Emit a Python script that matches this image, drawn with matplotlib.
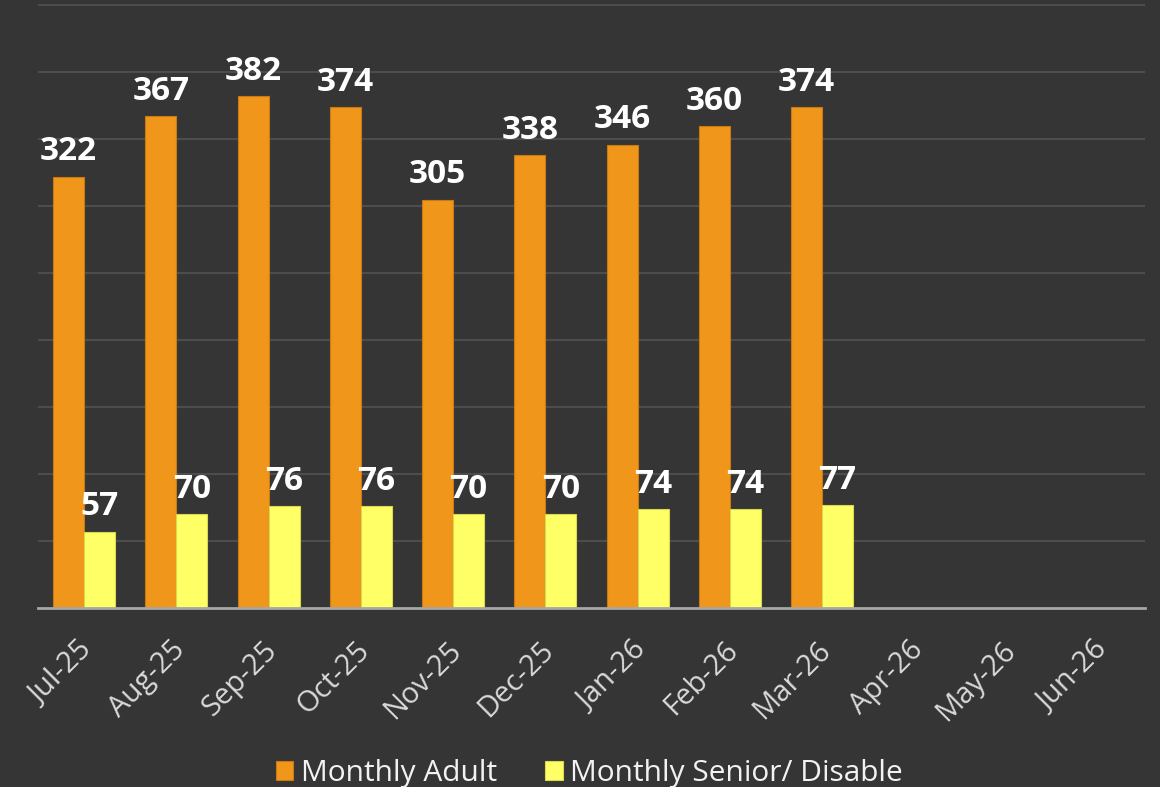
import matplotlib.pyplot as plt
import matplotlib.transforms as mtransforms
import numpy as np

months = ["Jul-25", "Aug-25", "Sep-25", "Oct-25", "Nov-25", "Dec-25",
          "Jan-26", "Feb-26", "Mar-26", "Apr-26", "May-26", "Jun-26"]
adult = [322, 367, 382, 374, 305, 338, 346, 360, 374]
senior = [57, 70, 76, 76, 70, 70, 74, 74, 77]

BG = "#353535"
ORANGE = "#F0961A"
YELLOW = "#FFFF66"

plt.rcParams["font.family"] = ["Open Sans", "DejaVu Sans"]

fig = plt.figure(figsize=(11.6, 7.87), dpi=100, facecolor=BG)
ax = fig.add_axes([38 / 1160, 1 - 608 / 787, (1145 - 38) / 1160, (608 - 4) / 787])
ax.set_facecolor(BG)

x = np.arange(len(months))
w = 0.335
b1 = ax.bar(x[:len(adult)] - w / 2, adult, w, color=ORANGE, edgecolor="#C97A12",
            linewidth=0.8, label="Monthly Adult", zorder=3)
b2 = ax.bar(x[:len(senior)] + w / 2, senior, w, color=YELLOW, edgecolor="#D9D94F",
            linewidth=0.8, label="Monthly Senior/ Disable", zorder=3)

for bars in (b1, b2):
    for r in bars:
        ax.annotate(f"{int(r.get_height())}", (r.get_x() + r.get_width() / 2, r.get_height()),
                    xytext=(0, 6), textcoords="offset points", ha="center", va="bottom",
                    color="white", fontsize=24, fontweight="bold", zorder=4)

ax.set_xlim(-0.5, len(months) - 0.5)
ax.set_ylim(0, 451)
ax.set_yticks(np.arange(50, 451, 50))
ax.yaxis.grid(True, color="#4d4d4d", linewidth=1.5, zorder=0)
ax.tick_params(axis="y", left=False, labelleft=False)
ax.tick_params(axis="x", length=0, pad=20)
ax.set_xticks(x)
ax.set_xticklabels(months, rotation=45, ha="right", va="top", rotation_mode="anchor",
                   color="#d9d9d9", fontsize=21)
shift = mtransforms.ScaledTranslation(-6 / 100, 0, fig.dpi_scale_trans)
for lbl in ax.get_xticklabels():
    lbl.set_transform(lbl.get_transform() + shift)
for s in ["left", "right", "top"]:
    ax.spines[s].set_visible(False)
ax.spines["bottom"].set_color("#a6a6a6")
ax.spines["bottom"].set_linewidth(2)
ax.spines["bottom"].set_zorder(5)

fig.legend(loc="lower center", bbox_to_anchor=(0.508, -0.035), ncol=2, frameon=False,
           fontsize=21.5, labelcolor="#f2f2f2", handlelength=0.6, handleheight=0.6,
           handletextpad=0.25, columnspacing=1.6)

fig.savefig("out.png", dpi=100, facecolor=BG)
